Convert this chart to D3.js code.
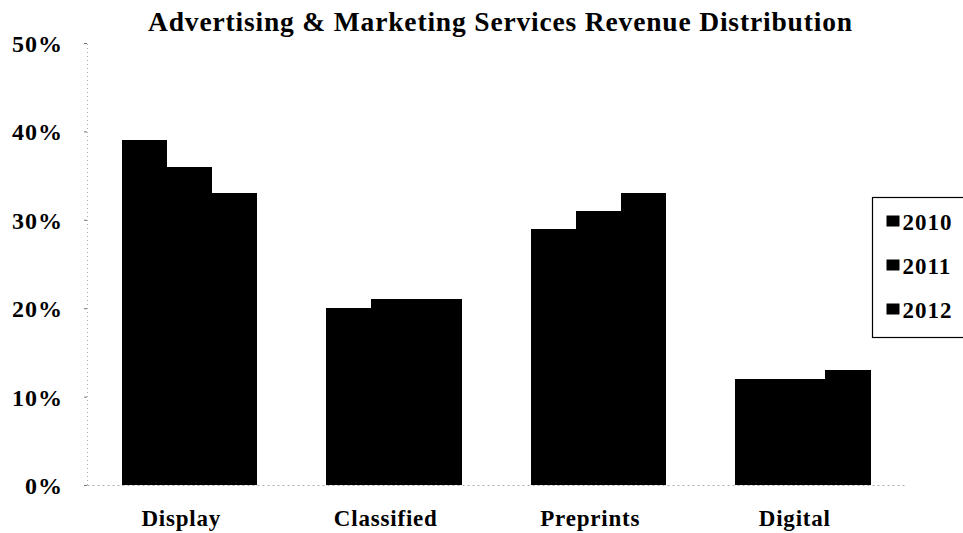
<!DOCTYPE html>
<html><head><meta charset="utf-8">
<script src="https://cdn.jsdelivr.net/npm/d3@7"></script>
<style>body{margin:0;background:#fff}svg{display:block}</style>
</head><body>
<svg id="c" width="963" height="533"></svg>
<script>
const categories = ["Display", "Classified", "Preprints", "Digital"];
const years = ["2010", "2011", "2012"];
const values2010 = [39, 20, 29, 12];
const values2011 = [36, 21, 31, 12];
const values2012 = [33, 21, 33, 13];
const yTicks = [0, 10, 20, 30, 40, 50];
const seriesColors = ["#000", "#000", "#000"];
const series = [values2010, values2011, values2012];

(function () {
const svg = d3.select("#c");
const font = "'Liberation Serif','Times New Roman',serif";
const mLeft = 87, mRight = 905, mTop = 43, mBottom = 485;

const x0 = d3.scaleBand().domain(categories).range([mLeft, mRight]).paddingInner(0.34).paddingOuter(0.17);
const x1 = d3.scaleBand().domain(years).range([0, x0.bandwidth()]).padding(0);
const y = d3.scaleLinear().domain([0, 50]).range([mBottom, mTop]);

svg.append("text").attr("x", 500).attr("y", 31).attr("text-anchor", "middle")
  .attr("font-family", font).attr("font-weight", "bold").attr("font-size", 27.5)
  .attr("textLength", 704).attr("lengthAdjust", "spacing")
  .text("Advertising & Marketing Services Revenue Distribution");

const yAxis = d3.axisLeft(y).tickValues(yTicks).tickSize(3).tickFormat(d => d + "%");
const ga = svg.append("g").attr("transform", `translate(${mLeft},0)`).call(yAxis);
ga.select(".domain").attr("stroke", "#aaa").attr("stroke-dasharray", "1,3");
ga.selectAll(".tick line").attr("stroke", "#777");
ga.selectAll(".tick text").attr("x", -24).attr("font-family", font).attr("font-weight", "bold")
  .attr("font-size", 24).attr("fill", "#000").attr("dy", "0.35em").attr("letter-spacing", 1);

const xAxis = d3.axisBottom(x0).tickSize(0).tickPadding(24);
const gx = svg.append("g").attr("transform", `translate(0,${mBottom})`).call(xAxis);
gx.select(".domain").attr("stroke", "#aaa").attr("stroke-dasharray", "2,3");
gx.selectAll(".tick text").attr("font-family", font).attr("font-weight", "bold")
  .attr("font-size", 23).attr("fill", "#000").attr("dy", "0.72em").attr("dx", -8)
  .attr("letter-spacing", 0.8);

const data = categories.map((c, i) => years.map((yr, j) => ({c, yr, v: series[j][i], j})));
svg.append("g").attr("shape-rendering", "crispEdges").selectAll("g").data(data).join("g")
  .attr("transform", d => `translate(${x0(d[0].c)},0)`)
  .selectAll("rect").data(d => d).join("rect")
  .attr("x", d => x1(d.yr)).attr("width", x1.bandwidth() + 0.5)
  .attr("y", d => y(d.v)).attr("height", d => y(0) - y(d.v))
  .attr("fill", d => seriesColors[d.j]);

const lg = svg.append("g").attr("transform", "translate(872.5,197.5)");
lg.append("rect").attr("x", 0).attr("y", 0).attr("width", 120).attr("height", 140)
  .attr("fill", "#fff").attr("stroke", "#000").attr("stroke-width", 1.2);
years.forEach((yr, i) => {
  const yy = 24 + i * 44;
  lg.append("rect").attr("x", 14).attr("y", yy - 6).attr("width", 13).attr("height", 11).attr("fill", seriesColors[i]);
  lg.append("text").attr("x", 30).attr("y", yy).attr("dy", "0.35em")
    .attr("font-family", font).attr("font-weight", "bold").attr("font-size", 23)
    .attr("letter-spacing", 1).text(yr);
});
})();
</script>
</body></html>
